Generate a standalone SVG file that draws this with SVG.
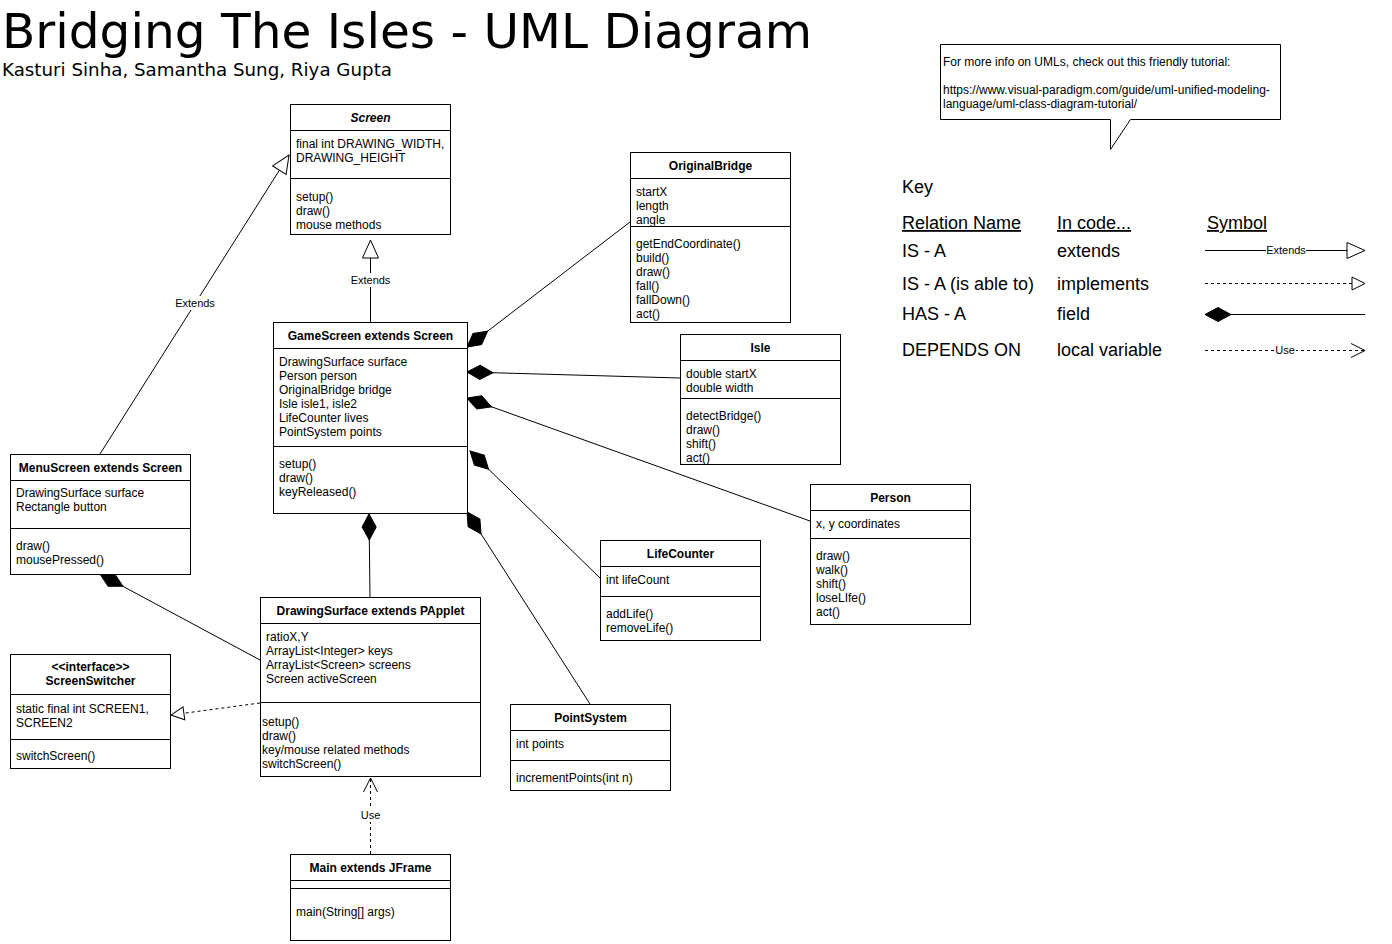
<svg xmlns="http://www.w3.org/2000/svg" width="1392" height="944" viewBox="0 0 1392 944">
<style>
.box{fill:#fff;stroke:#000;stroke-width:1}
.sep{stroke:#000;stroke-width:1}
.t{font-family:"Liberation Sans",Arial,Helvetica,sans-serif;font-size:12px;fill:#000}
.h{font-weight:bold;text-anchor:middle}
.c{text-anchor:middle}
.ln{fill:none;stroke:#000;stroke-width:1}
.dash{stroke-dasharray:3 3}
.lbl{font-family:"Liberation Sans",Arial,Helvetica,sans-serif;font-size:11px;text-anchor:middle;fill:#000}
.k{font-family:"Liberation Sans",Arial,Helvetica,sans-serif;font-size:18px;fill:#000}
.u{text-decoration:underline}
.tip{font-family:"Liberation Sans",Arial,Helvetica,sans-serif;font-size:12px;fill:#000}
</style>
<defs>
<marker id="tri" viewBox="0 0 18 16" refX="18" refY="8" markerWidth="18" markerHeight="16" markerUnits="userSpaceOnUse" orient="auto" overflow="visible"><path d="M0,0 L18,8 L0,16 Z" fill="#fff" stroke="#000" stroke-width="1"/></marker>
<marker id="tris" viewBox="0 0 13 13" refX="13" refY="6.5" markerWidth="13" markerHeight="13" markerUnits="userSpaceOnUse" orient="auto" overflow="visible"><path d="M0,0 L13,6.5 L0,13 Z" fill="#fff" stroke="#000" stroke-width="1"/></marker>
<marker id="dia" viewBox="0 0 26 14" refX="0" refY="7" markerWidth="26" markerHeight="14" markerUnits="userSpaceOnUse" orient="auto" overflow="visible"><path d="M0,7 L13,0 L26,7 L13,14 Z" fill="#000" stroke="#000" stroke-width="1"/></marker>
<marker id="open" viewBox="0 0 14 14" refX="14" refY="7" markerWidth="14" markerHeight="14" markerUnits="userSpaceOnUse" orient="auto" overflow="visible"><path d="M0,0 L14,7 L0,14" fill="none" stroke="#000" stroke-width="1"/></marker>
</defs>
<rect width="1392" height="944" fill="#fff"/>

<g id="title">
<text x="2" y="48" font-family="'DejaVu Sans',Verdana,sans-serif" font-size="48" textLength="810" lengthAdjust="spacingAndGlyphs">Bridging The Isles - UML Diagram</text>
<text x="2" y="76" font-family="'DejaVu Sans',Verdana,sans-serif" font-size="17" textLength="390" lengthAdjust="spacingAndGlyphs">Kasturi Sinha, Samantha Sung, Riya Gupta</text>
</g>

<g id="connectors">
<path class="ln" d="M100,454 L289,155" marker-end="url(#tri)"/>
<rect x="175" y="296" width="40" height="14" fill="#fff"/>
<text class="lbl" x="195" y="307">Extends</text>
<path class="ln" d="M370.5,322 L370.5,240" marker-end="url(#tri)"/>
<rect x="350" y="273" width="41" height="14" fill="#fff"/>
<text class="lbl" x="370.5" y="284">Extends</text>
<path class="ln" d="M467,347 L630,222" marker-start="url(#dia)"/>
<path class="ln" d="M467,372 L680,378" marker-start="url(#dia)"/>
<path class="ln" d="M467,398 L810,521" marker-start="url(#dia)"/>
<path class="ln" d="M470,451 L600,578" marker-start="url(#dia)"/>
<path class="ln" d="M467,512 L590,704" marker-start="url(#dia)"/>
<path class="ln" d="M369,514 L370,597" marker-start="url(#dia)"/>
<path class="ln" d="M100,574 L260,660" marker-start="url(#dia)"/>
<path class="ln dash" d="M260,703 L171,715" marker-end="url(#tris)"/>
<path class="ln dash" d="M370.5,854 L370.5,778" marker-end="url(#open)"/>
<rect x="359" y="808" width="23" height="14" fill="#fff"/>
<text class="lbl" x="370.5" y="819">Use</text>
</g>

<g id="Screen">
<rect class="box" x="290.5" y="104.5" width="160" height="130"/>
<line class="sep" x1="290.5" y1="130.5" x2="450.5" y2="130.5"/>
<line class="sep" x1="290.5" y1="178.5" x2="450.5" y2="178.5"/>
<text class="t h" x="370.5" y="122" font-style="italic">Screen</text>
<text class="t" x="296" y="148">final int DRAWING_WIDTH,</text>
<text class="t" x="296" y="162">DRAWING_HEIGHT</text>
<text class="t" x="296" y="201">setup()</text>
<text class="t" x="296" y="215">draw()</text>
<text class="t" x="296" y="229">mouse methods</text>
</g>

<g id="OriginalBridge">
<rect class="box" x="630.5" y="152.5" width="160" height="170"/>
<line class="sep" x1="630.5" y1="178.5" x2="790.5" y2="178.5"/>
<line class="sep" x1="630.5" y1="226.5" x2="790.5" y2="226.5"/>
<text class="t h" x="710.5" y="170">OriginalBridge</text>
<text class="t" x="636" y="196">startX</text>
<text class="t" x="636" y="210">length</text>
<text class="t" x="636" y="224">angle</text>
<text class="t" x="636" y="248">getEndCoordinate()</text>
<text class="t" x="636" y="262">build()</text>
<text class="t" x="636" y="276">draw()</text>
<text class="t" x="636" y="290">fall()</text>
<text class="t" x="636" y="304">fallDown()</text>
<text class="t" x="636" y="318">act()</text>
</g>

<g id="GameScreen">
<rect class="box" x="273.5" y="322.5" width="194" height="191"/>
<line class="sep" x1="273.5" y1="348.5" x2="467.5" y2="348.5"/>
<line class="sep" x1="273.5" y1="446.5" x2="467.5" y2="446.5"/>
<text class="t h" x="370.5" y="340">GameScreen extends Screen</text>
<text class="t" x="279" y="366">DrawingSurface surface</text>
<text class="t" x="279" y="380">Person person</text>
<text class="t" x="279" y="394">OriginalBridge bridge</text>
<text class="t" x="279" y="408">Isle isle1, isle2</text>
<text class="t" x="279" y="422">LifeCounter lives</text>
<text class="t" x="279" y="436">PointSystem points</text>
<text class="t" x="279" y="468">setup()</text>
<text class="t" x="279" y="482">draw()</text>
<text class="t" x="279" y="496">keyReleased()</text>
</g>

<g id="Isle">
<rect class="box" x="680.5" y="334.5" width="160" height="130"/>
<line class="sep" x1="680.5" y1="360.5" x2="840.5" y2="360.5"/>
<line class="sep" x1="680.5" y1="398.5" x2="840.5" y2="398.5"/>
<text class="t h" x="760.5" y="352">Isle</text>
<text class="t" x="686" y="378">double startX</text>
<text class="t" x="686" y="392">double width</text>
<text class="t" x="686" y="420">detectBridge()</text>
<text class="t" x="686" y="434">draw()</text>
<text class="t" x="686" y="448">shift()</text>
<text class="t" x="686" y="462">act()</text>
</g>

<g id="Person">
<rect class="box" x="810.5" y="484.5" width="160" height="140"/>
<line class="sep" x1="810.5" y1="510.5" x2="970.5" y2="510.5"/>
<line class="sep" x1="810.5" y1="538.5" x2="970.5" y2="538.5"/>
<text class="t h" x="890.5" y="502">Person</text>
<text class="t" x="816" y="528">x, y coordinates</text>
<text class="t" x="816" y="560">draw()</text>
<text class="t" x="816" y="574">walk()</text>
<text class="t" x="816" y="588">shift()</text>
<text class="t" x="816" y="602">loseLIfe()</text>
<text class="t" x="816" y="616">act()</text>
</g>

<g id="LifeCounter">
<rect class="box" x="600.5" y="540.5" width="160" height="100"/>
<line class="sep" x1="600.5" y1="566.5" x2="760.5" y2="566.5"/>
<line class="sep" x1="600.5" y1="596.5" x2="760.5" y2="596.5"/>
<text class="t h" x="680.5" y="558">LifeCounter</text>
<text class="t" x="606" y="584">int lifeCount</text>
<text class="t" x="606" y="618">addLife()</text>
<text class="t" x="606" y="632">removeLife()</text>
</g>

<g id="PointSystem">
<rect class="box" x="510.5" y="704.5" width="160" height="86"/>
<line class="sep" x1="510.5" y1="730.5" x2="670.5" y2="730.5"/>
<line class="sep" x1="510.5" y1="760.5" x2="670.5" y2="760.5"/>
<text class="t h" x="590.5" y="722">PointSystem</text>
<text class="t" x="516" y="748">int points</text>
<text class="t" x="516" y="782">incrementPoints(int n)</text>
</g>

<g id="MenuScreen">
<rect class="box" x="10.5" y="454.5" width="180" height="120"/>
<line class="sep" x1="10.5" y1="480.5" x2="190.5" y2="480.5"/>
<line class="sep" x1="10.5" y1="528.5" x2="190.5" y2="528.5"/>
<text class="t h" x="100.5" y="472">MenuScreen extends Screen</text>
<text class="t" x="16" y="497">DrawingSurface surface</text>
<text class="t" x="16" y="511">Rectangle button</text>
<text class="t" x="16" y="550">draw()</text>
<text class="t" x="16" y="564">mousePressed()</text>
</g>

<g id="ScreenSwitcher">
<rect class="box" x="10.5" y="654.5" width="160" height="114"/>
<line class="sep" x1="10.5" y1="694.5" x2="170.5" y2="694.5"/>
<line class="sep" x1="10.5" y1="739.5" x2="170.5" y2="739.5"/>
<text class="t h" x="90.5" y="671">&lt;&lt;interface&gt;&gt;</text>
<text class="t h" x="90.5" y="685">ScreenSwitcher</text>
<text class="t" x="16" y="713">static final int SCREEN1,</text>
<text class="t" x="16" y="727">SCREEN2</text>
<text class="t" x="16" y="760">switchScreen()</text>
</g>

<g id="DrawingSurface">
<rect class="box" x="260.5" y="597.5" width="220" height="179"/>
<line class="sep" x1="260.5" y1="623.5" x2="480.5" y2="623.5"/>
<line class="sep" x1="260.5" y1="702.5" x2="480.5" y2="702.5"/>
<text class="t h" x="370.5" y="615">DrawingSurface extends PApplet</text>
<text class="t" x="266" y="641">ratioX,Y</text>
<text class="t" x="266" y="655">ArrayList&lt;Integer&gt; keys</text>
<text class="t" x="266" y="669">ArrayList&lt;Screen&gt; screens</text>
<text class="t" x="266" y="683">Screen activeScreen</text>
<text class="t" x="262" y="726">setup()</text>
<text class="t" x="262" y="740">draw()</text>
<text class="t" x="262" y="754">key/mouse related methods</text>
<text class="t" x="262" y="768">switchScreen()</text>
</g>

<g id="Main">
<rect class="box" x="290.5" y="854.5" width="160" height="86"/>
<line class="sep" x1="290.5" y1="880.5" x2="450.5" y2="880.5"/>
<line class="sep" x1="290.5" y1="888.5" x2="450.5" y2="888.5"/>
<text class="t h" x="370.5" y="872">Main extends JFrame</text>
<text class="t" x="296" y="916">main(String[] args)</text>
</g>

<g id="tooltip">
<path d="M940.5,44.5 H1280.5 V119.5 H1130.5 L1110.5,149.5 V119.5 H940.5 Z" fill="#fff" stroke="#000"/>
<text class="tip" x="943" y="66">For more info on UMLs, check out this friendly tutorial:</text>
<text class="tip" x="943" y="94">https://www.visual-paradigm.com/guide/uml-unified-modeling-</text>
<text class="tip" x="943" y="108">language/uml-class-diagram-tutorial/</text>
</g>

<g id="key">
<text class="k" x="902" y="193" font-size="22">Key</text>
<text class="k u" x="902" y="229">Relation Name</text>
<text class="k u" x="1057" y="229">In code...</text>
<text class="k u" x="1207" y="229">Symbol</text>
<text class="k" x="902" y="257">IS - A</text>
<text class="k" x="1057" y="257">extends</text>
<text class="k" x="902" y="290">IS - A (is able to)</text>
<text class="k" x="1057" y="290">implements</text>
<text class="k" x="902" y="320">HAS - A</text>
<text class="k" x="1057" y="320">field</text>
<text class="k" x="902" y="356">DEPENDS ON</text>
<text class="k" x="1057" y="356">local variable</text>
<path class="ln" d="M1205,250.5 L1365,250.5" marker-end="url(#tri)"/>
<rect x="1266" y="244" width="40" height="12" fill="#fff"/>
<text class="lbl" x="1286" y="254">Extends</text>
<path class="ln dash" d="M1205,283.5 L1365,283.5" marker-end="url(#tris)"/>
<path class="ln" d="M1205,314.5 L1365,314.5" marker-start="url(#dia)"/>
<path class="ln dash" d="M1205,350.5 L1365,350.5" marker-end="url(#open)"/>
<rect x="1274" y="344" width="22" height="12" fill="#fff"/>
<text class="lbl" x="1285" y="354">Use</text>
</g>
</svg>
